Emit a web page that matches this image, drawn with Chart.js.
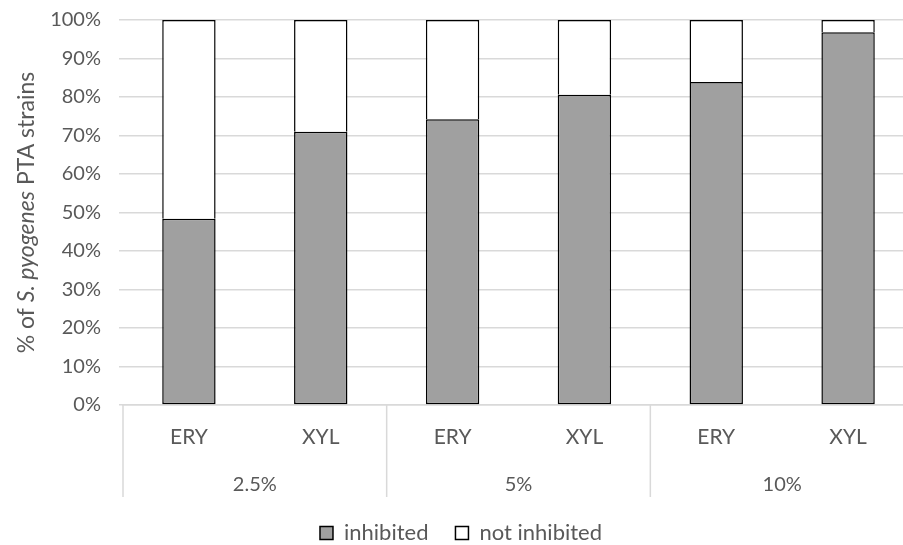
<!DOCTYPE html>
<html>
<head>
<meta charset="utf-8">
<script src="https://cdn.jsdelivr.net/npm/chart.js@4/dist/chart.umd.min.js"></script>
<style>
  html, body { margin: 0; padding: 0; overflow: hidden; background: #fff; }
  canvas { display: block; margin-top: -10px; }
</style>
</head>
<body>
<canvas id="chart" width="956" height="564"></canvas>
<script>
// Agents tested at each concentration
const drugs = ['ERY', 'XYL', 'ERY', 'XYL', 'ERY', 'XYL'];
const concentrations = ['2.5%', '5%', '10%'];

// Share of strains (%) per agent/concentration
const inhibited = [48.4, 71.0, 74.2, 80.6, 83.9, 96.8];
const notInhibited = [51.6, 29.0, 25.8, 19.4, 16.1, 3.2];

const seriesNames = ['inhibited', 'not inhibited'];
const yAxisTitle = [
  { text: '% of ', italic: false },
  { text: 'S. pyogenes', italic: true },
  { text: ' PTA strains', italic: false }
];

const TEXT = '#595959';
const GRID = '#d9d9d9';
const FONT = 'Lato, "Open Sans", sans-serif';

Chart.defaults.font.family = FONT;
Chart.defaults.color = TEXT;

// Vertical separators of the two-level category axis
const groupSeparators = {
  id: 'groupSeparators',
  afterDraw(chart) {
    const x = chart.scales.x, x2 = chart.scales.x2, ctx = chart.ctx;
    const per = drugs.length / concentrations.length;
    const top = chart.chartArea.bottom;
    const bottom = x2.bottom + 2;
    ctx.save();
    ctx.strokeStyle = GRID;
    ctx.lineWidth = 1.5;
    for (let g = 0; g <= concentrations.length; g++) {
      const i = g * per;
      let px;
      if (i === 0) px = x.left;
      else if (i === drugs.length) px = x.right;
      else px = (x.getPixelForValue(i - 1) + x.getPixelForValue(i)) / 2;
      ctx.beginPath();
      ctx.moveTo(px, top);
      ctx.lineTo(px, bottom);
      ctx.stroke();
    }
    ctx.restore();
  }
};

// Rotated y-axis title with an italic species name
const yTitle = {
  id: 'yTitle',
  afterDraw(chart) {
    const ctx = chart.ctx, area = chart.chartArea;
    const size = 23;
    const fontFor = it => (it ? 'italic ' : '') + size + 'px ' + FONT;
    ctx.save();
    let total = 0;
    yAxisTitle.forEach(s => { ctx.font = fontFor(s.italic); total += ctx.measureText(s.text).width; });
    ctx.translate(27, (area.top + area.bottom) / 2);
    ctx.rotate(-Math.PI / 2);
    ctx.fillStyle = TEXT;
    ctx.textBaseline = 'middle';
    ctx.textAlign = 'left';
    let cx = -total / 2;
    yAxisTitle.forEach(s => {
      ctx.font = fontFor(s.italic);
      ctx.fillText(s.text, cx, 0);
      cx += ctx.measureText(s.text).width;
    });
    ctx.restore();
  }
};

new Chart(document.getElementById('chart'), {
  type: 'bar',
  data: {
    labels: drugs,
    datasets: [
      {
        label: seriesNames[0],
        data: inhibited,
        backgroundColor: '#a0a0a0',
        borderColor: '#000000',
        borderWidth: 1.5,
        borderSkipped: false,
        xAxisID: 'x'
      },
      {
        label: seriesNames[1],
        data: notInhibited,
        backgroundColor: '#ffffff',
        borderColor: '#000000',
        borderWidth: 1.5,
        borderSkipped: 'start',
        xAxisID: 'x'
      }
    ]
  },
  options: {
    responsive: false,
    animation: false,
    layout: { padding: { left: 8, right: 42, top: 9, bottom: 0 } },
    datasets: { bar: { categoryPercentage: 1, barPercentage: 0.405 } },
    scales: {
      x: {
        type: 'category',
        position: 'bottom',
        stacked: true,
        weight: 0,
        offset: true,
        grid: { display: false, drawTicks: false },
        border: { display: true, color: GRID, width: 1.5 },
        ticks: { padding: 20, font: { size: 21 }, color: TEXT, maxRotation: 0 },
        afterFit(scale) { scale.height = 55; }
      },
      x2: {
        type: 'category',
        position: 'bottom',
        labels: concentrations,
        weight: 1,
        offset: true,
        grid: { display: false, drawTicks: false },
        border: { display: false },
        ticks: { padding: 13, font: { size: 20 }, color: TEXT, maxRotation: 0 },
        afterFit(scale) { scale.height = 35; }
      },
      y: {
        stacked: true,
        min: 0,
        max: 100,
        grid: { color: GRID, lineWidth: 1.5, tickLength: 4 },
        border: { display: false },
        ticks: {
          stepSize: 10,
          padding: 18,
          font: { size: 20 },
          color: TEXT,
          callback: v => v + '%'
        },
        afterFit(scale) { scale.width = 115; }
      }
    },
    plugins: {
      tooltip: { enabled: false },
      legend: {
        position: 'bottom',
        labels: {
          boxWidth: 13,
          boxHeight: 13,
          padding: 27,
          font: { size: 22 },
          color: TEXT
        }
      }
    }
  },
  plugins: [groupSeparators, yTitle]
});
</script>
</body>
</html>
